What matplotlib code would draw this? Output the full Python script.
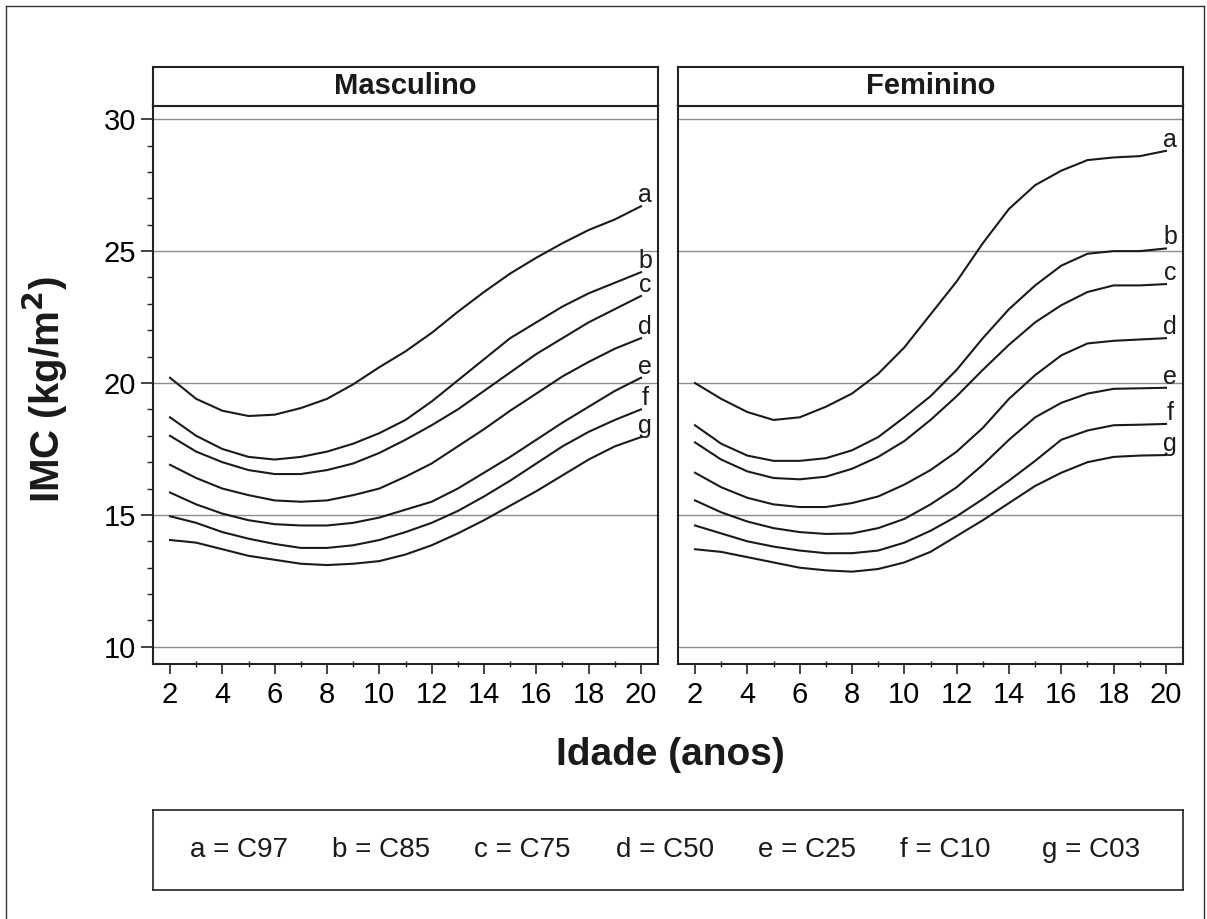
import numpy as np
import matplotlib
matplotlib.use("Agg")
import matplotlib.pyplot as plt
from matplotlib.ticker import MultipleLocator
from matplotlib.lines import Line2D

plt.rcParams['font.family'] = ['Liberation Sans', 'DejaVu Sans']

# idade (anos)
ages = [2, 3, 4, 5, 6, 7, 8, 9, 10, 11, 12, 13, 14, 15, 16, 17, 18, 19, 20]
curve_ids = ['a', 'b', 'c', 'd', 'e', 'f', 'g']
percentis = ['C97', 'C85', 'C75', 'C50', 'C25', 'C10', 'C03']

# masculino - IMC por percentil
masc_a = [20.2, 19.4, 18.95, 18.75, 18.8, 19.05, 19.4, 19.95, 20.6, 21.2, 21.9, 22.7, 23.45, 24.15, 24.75, 25.3, 25.8, 26.2, 26.7]
masc_b = [18.7, 18.0, 17.5, 17.2, 17.1, 17.2, 17.4, 17.7, 18.1, 18.6, 19.3, 20.1, 20.9, 21.7, 22.3, 22.9, 23.4, 23.8, 24.2]
masc_c = [18.0, 17.4, 17.0, 16.7, 16.55, 16.55, 16.7, 16.95, 17.35, 17.85, 18.4, 19.0, 19.7, 20.4, 21.1, 21.7, 22.3, 22.8, 23.3]
masc_d = [16.9, 16.4, 16.0, 15.75, 15.55, 15.5, 15.55, 15.75, 16.0, 16.45, 16.95, 17.6, 18.25, 18.95, 19.6, 20.25, 20.8, 21.3, 21.7]
masc_e = [15.85, 15.4, 15.05, 14.8, 14.65, 14.6, 14.6, 14.7, 14.9, 15.2, 15.5, 16.0, 16.6, 17.2, 17.85, 18.5, 19.1, 19.7, 20.2]
masc_f = [14.95, 14.7, 14.35, 14.1, 13.9, 13.75, 13.75, 13.85, 14.05, 14.35, 14.7, 15.15, 15.7, 16.3, 16.95, 17.6, 18.15, 18.6, 19.0]
masc_g = [14.05, 13.95, 13.7, 13.45, 13.3, 13.15, 13.1, 13.15, 13.25, 13.5, 13.85, 14.3, 14.8, 15.35, 15.9, 16.5, 17.1, 17.6, 17.95]

# feminino - IMC por percentil
fem_a = [20.0, 19.4, 18.9, 18.6, 18.7, 19.1, 19.6, 20.35, 21.35, 22.6, 23.85, 25.3, 26.6, 27.5, 28.05, 28.45, 28.55, 28.6, 28.8]
fem_b = [18.4, 17.7, 17.25, 17.05, 17.05, 17.15, 17.45, 17.95, 18.7, 19.5, 20.5, 21.7, 22.8, 23.7, 24.45, 24.9, 25.0, 25.0, 25.1]
fem_c = [17.75, 17.1, 16.65, 16.4, 16.35, 16.45, 16.75, 17.2, 17.8, 18.6, 19.5, 20.5, 21.45, 22.3, 22.95, 23.45, 23.7, 23.7, 23.75]
fem_d = [16.6, 16.05, 15.65, 15.4, 15.3, 15.3, 15.45, 15.7, 16.15, 16.7, 17.4, 18.3, 19.4, 20.3, 21.05, 21.5, 21.6, 21.65, 21.7]
fem_e = [15.55, 15.1, 14.75, 14.5, 14.35, 14.28, 14.3, 14.5, 14.85, 15.4, 16.05, 16.9, 17.85, 18.7, 19.25, 19.6, 19.78, 19.8, 19.82]
fem_f = [14.6, 14.3, 14.0, 13.8, 13.65, 13.55, 13.55, 13.65, 13.95, 14.4, 14.95, 15.6, 16.3, 17.05, 17.85, 18.2, 18.4, 18.42, 18.45]
fem_g = [13.7, 13.6, 13.4, 13.2, 13.0, 12.9, 12.85, 12.95, 13.2, 13.6, 14.2, 14.8, 15.45, 16.1, 16.6, 17.0, 17.2, 17.25, 17.27]

masc = [masc_a, masc_b, masc_c, masc_d, masc_e, masc_f, masc_g]
fem = [fem_a, fem_b, fem_c, fem_d, fem_e, fem_f, fem_g]

W, H = 1207, 919
fig = plt.figure(figsize=(W / 100, H / 100), dpi=100)

def fbox(x0, y0, x1, y1):
    # pixel box -> figure fraction [left, bottom, width, height]
    return [x0 / W, 1 - y1 / H, (x1 - x0) / W, (y1 - y0) / H]

panels = [("Masculino", masc, 153, 658), ("Feminino", fem, 678, 1183)]

for i, (title, data, x0, x1) in enumerate(panels):
    ax = fig.add_axes(fbox(x0, 106, x1, 664))
    ax.set_xlim(1.35, 20.65)
    ax.set_ylim(9.35, 30.5)
    for yv in [10, 15, 20, 25, 30]:
        ax.axhline(yv, color='#8c8c8c', lw=1.0, zorder=1)
    for cid, vals in zip(curve_ids, data):
        ax.plot(ages, vals, color='#1a1a1a', lw=1.5, zorder=3, solid_joinstyle='round')
        ax.annotate(cid, (ages[-1], vals[-1]), xytext=(3, 3), textcoords='offset points',
                    ha='center', va='baseline', fontsize=18, color='#1a1a1a')
    ax.xaxis.set_minor_locator(MultipleLocator(1))
    ax.set_xticks(range(2, 21, 2))
    ax.tick_params(axis='x', which='major', direction='out', length=7, width=1.2,
                   labelsize=21, pad=5, color='#222222')
    ax.tick_params(axis='x', which='minor', direction='inout', length=5, width=1.0, color='#222222')
    if i == 0:
        ax.yaxis.set_major_locator(MultipleLocator(5))
        ax.yaxis.set_minor_locator(MultipleLocator(1))
        ax.tick_params(axis='y', which='major', direction='out', length=9, width=1.2,
                       labelsize=21, pad=3, color='#222222')
        ax.tick_params(axis='y', which='minor', direction='out', length=4, width=1.0, color='#222222')
    else:
        ax.set_yticks([])
        ax.tick_params(axis='y', which='both', left=False, labelleft=False)
    for sp in ax.spines.values():
        sp.set_linewidth(1.5)
        sp.set_color('#222222')

    # faixa do titulo
    st = fig.add_axes(fbox(x0, 67, x1, 106))
    st.set_xticks([])
    st.set_yticks([])
    for sp in st.spines.values():
        sp.set_linewidth(1.5)
        sp.set_color('#222222')
    st.text(0.5, 0.5, title, transform=st.transAxes, ha='center', va='center',
            fontsize=21, fontweight='bold', color='#1a1a1a')

fig.text(45 / W, 1 - 390 / H, 'IMC (kg/m$^\\mathbf{2}$)', rotation=90, ha='center', va='center',
         fontsize=29, fontweight='bold', color='#1a1a1a')
fig.text(670 / W, 1 - 755 / H, 'Idade (anos)', ha='center', va='center',
         fontsize=28, fontweight='bold', color='#1a1a1a')

# caixa da legenda
lg = fig.add_axes(fbox(153, 810, 1183, 890))
lg.set_xticks([])
lg.set_yticks([])
for sp in lg.spines.values():
    sp.set_linewidth(1.2)
    sp.set_color('#222222')
for k, (cid, pc) in enumerate(zip(curve_ids, percentis)):
    lg.text((190 - 153 + k * 142) / 1030, 0.5, f'{cid} = {pc}', transform=lg.transAxes,
            ha='left', va='center', fontsize=20, color='#1a1a1a')

# moldura externa
for xs, ys in [([6, 6], [6, 919]), ([6, 1204], [6, 6]), ([1204, 1204], [6, 919])]:
    fig.add_artist(Line2D([x / W for x in xs], [1 - y / H for y in ys], color='#333333', lw=1.0))

fig.savefig('out.png', dpi=100)
